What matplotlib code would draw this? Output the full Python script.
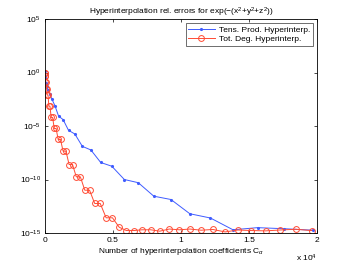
import matplotlib
matplotlib.use("Agg")
import matplotlib.pyplot as plt
import numpy as np

plt.rcParams["font.family"] = ["Liberation Sans", "DejaVu Sans"]
plt.rcParams["mathtext.fontset"] = "custom"
plt.rcParams["mathtext.rm"] = "Liberation Sans"
plt.rcParams["mathtext.it"] = "Liberation Sans:italic"

# tensor product hyperinterpolation: number of coefficients and log10 error
tp_coeffs = [1, 8, 27, 64, 125, 216, 343, 512, 729, 1000, 1331, 1728, 2197, 2744,
             3375, 4096, 4913, 5832, 6859, 8000, 9261, 10648, 12167, 13824,
             15625, 17576, 19683]
tp_log_err = [0.1, -0.3, -0.5, -1.0, -1.3, -1.6, -2.0, -2.5, -3.1, -4.08, -4.4,
              -5.4, -5.75, -6.9, -7.24, -8.41, -8.76, -10.0, -10.3, -11.56,
              -11.87, -13.2, -13.6, -14.7, -14.5, -14.6, -14.74]

# total degree hyperinterpolation
td_coeffs = [1, 4, 10, 20, 35, 56, 84, 120, 165, 220, 286, 364, 455, 560, 680,
             816, 969, 1140, 1330, 1540, 1771, 2024, 2300, 2600, 2925, 3276,
             3654, 4060, 4495, 4960, 5456, 5984, 6545, 7140, 7770, 8436, 9139,
             9880, 10660, 11480, 12341, 13244, 14190, 15180, 16215, 17296,
             18424, 19600]
td_log_err = [0.0, 0.0, -0.3, -0.3, -0.85, -0.85, -1.5, -1.5, -2.1, -2.1,
              -3.15, -3.15, -4.2, -4.2, -5.23, -5.23, -6.26, -6.26, -7.35, -7.35,
              -8.6, -8.6, -9.75, -9.75, -11.0, -11.0, -12.24, -12.24, -13.58,
              -13.58, -14.46, -14.77, -14.77, -14.7, -14.7, -14.83, -14.63, -14.7,
              -14.63, -14.74, -14.67, -14.9, -14.72, -14.77, -14.8, -14.72,
              -14.65, -14.77]

x_ticks = [0, 5000, 10000, 15000, 20000]
x_tick_labels = ["0", "0.5", "1", "1.5", "2"]
y_ticks = [1e-15, 1e-10, 1e-5, 1e0, 1e5]

fig = plt.figure(figsize=(3.5, 2.64), dpi=100)
ax = fig.add_axes([45 / 350, 1 - 233 / 264, 272 / 350, 214 / 264])

blue = "#3f5cff"
red = "#ff4a33"
ax.plot(tp_coeffs, 10 ** np.array(tp_log_err), "-", color=blue, linewidth=0.7,
        marker=".", markersize=2.5, label="Tens. Prod. Hyperinterp.")
ax.plot(td_coeffs, 10 ** np.array(td_log_err), "-", color=red, linewidth=0.7,
        marker="o", markersize=4.2, markerfacecolor="none", markeredgewidth=0.7,
        label="Tot. Deg. Hyperinterp.")

ax.set_yscale("log")
ax.set_xlim(0, 20000)
ax.set_ylim(1e-15, 1e5)
ax.set_xticks(x_ticks)
ax.set_xticklabels(x_tick_labels)
ax.set_yticks(y_ticks)
ax.yaxis.set_minor_locator(matplotlib.ticker.NullLocator())
ax.tick_params(direction="in", length=2.5, width=0.5, labelsize=6,
               top=True, right=True, pad=3)
for s in ax.spines.values():
    s.set_linewidth(0.6)

ax.set_title(r"Hyperinterpolation rel. errors for exp($-$(x$^2$+y$^2$+z$^2$))",
             fontsize=6, pad=3)
ax.set_xlabel(r"Number of hyperinterpolation coefficients C$_\alpha$",
              fontsize=6, labelpad=1)
ax.text(1.0, -0.092, r"x 10$^4$", transform=ax.transAxes, fontsize=6,
        ha="right", va="top")

leg = ax.legend(loc="upper right", fontsize=6, frameon=True, fancybox=False,
                borderpad=0.3, handlelength=3.2, labelspacing=0.2,
                borderaxespad=0.5, handletextpad=0.5)
leg.get_frame().set_edgecolor("black")
leg.get_frame().set_linewidth(0.5)

fig.savefig("out.png", dpi=100)
